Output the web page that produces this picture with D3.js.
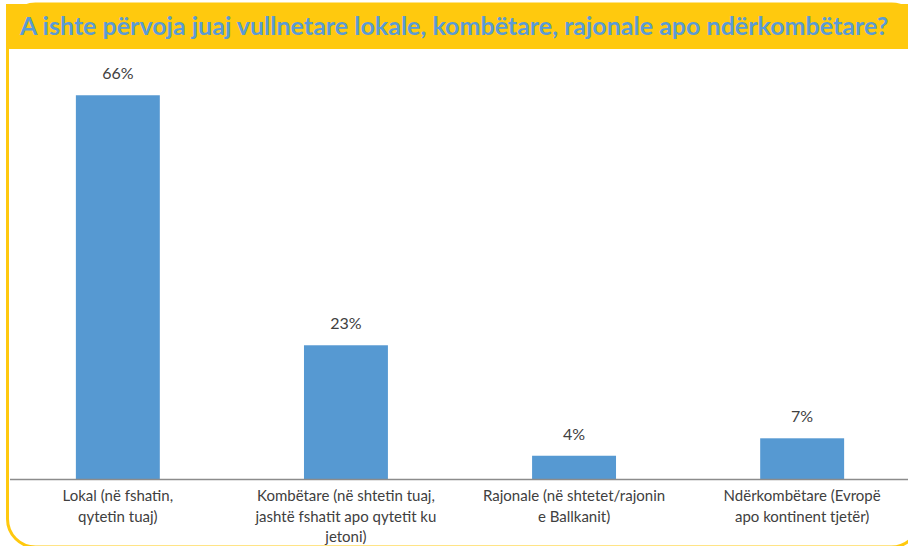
<!DOCTYPE html>
<html>
<head>
<meta charset="utf-8">
<script src="https://cdn.jsdelivr.net/npm/d3@7"></script>
<style>
  html, body { margin: 0; padding: 0; background: #fff; }
  svg { display: block; }
</style>
</head>
<body>
<div id="grafico"></div>
<script>
const WIDTH = 908;
const HEIGHT = 546;

const title = "A ishte përvoja juaj vullnetare lokale, kombëtare, rajonale apo ndërkombëtare?";
const categories = [
    ["Lokal (në fshatin,", "qytetin tuaj)"],
    ["Kombëtare (në shtetin tuaj,", "jashtë fshatit apo qytetit ku", "jetoni)"],
    ["Rajonale (në shtetet/rajonin", "e Ballkanit)"],
    ["Ndërkombëtare (Evropë", "apo kontinent tjetër)"]
];
const values = [66, 23, 4, 7];
const valueLabels = ["66%", "23%", "4%", "7%"];

const yellow = "#ffc90e";
const blue = "#5699d2";
const textColor = "#404040";

let svg = d3.select("#grafico")
    .append("svg")
    .attr("width", WIDTH)
    .attr("height", HEIGHT);

// rounded yellow frame, bottom edge sits just under the picture
svg.append("rect")
    .attr("x", 7.5)
    .attr("y", 4)
    .attr("width", 912)
    .attr("height", 543)
    .attr("rx", 28)
    .style("fill", "none")
    .style("stroke", yellow)
    .style("stroke-width", 3);

// title band
svg.append("rect")
    .attr("x", 6)
    .attr("y", 4)
    .attr("width", WIDTH - 6)
    .attr("height", 45)
    .style("fill", yellow);

let titleText = svg.append("text")
    .attr("x", 20)
    .attr("y", 35)
    .style("fill", "#5b9bd5")
    .style("font-family", "Lato")
    .style("font-weight", "bold")
    .style("font-size", "23px")
    .text(title);

// fit title to the width it takes in the picture
let tw = titleText.node().getComputedTextLength();
titleText.style("font-size", (23 * 869 / tw) + "px");

let x = d3.scaleBand()
    .domain(d3.range(values.length))
    .range([12, WIDTH])
    .paddingInner(0.632)
    .paddingOuter(0.28);

let y = d3.scaleLinear()
    .domain([0, 70])
    .range([479, 72]);

svg.selectAll(".bar")
    .data(values)
    .enter()
    .append("rect")
    .attr("class", "bar")
    .attr("x", (d, i) => x(i))
    .attr("y", d => y(d))
    .attr("width", x.bandwidth())
    .attr("height", d => y(0) - y(d))
    .style("fill", blue);

svg.append("line")
    .attr("x1", 10)
    .attr("x2", WIDTH)
    .attr("y1", y(0) + 0.5)
    .attr("y2", y(0) + 0.5)
    .style("stroke", "#8c8c8c")
    .style("stroke-width", 1.5);

svg.selectAll(".value")
    .data(values)
    .enter()
    .append("text")
    .attr("class", "value")
    .attr("x", (d, i) => x(i) + x.bandwidth() / 2)
    .attr("y", d => y(d) - 16)
    .attr("text-anchor", "middle")
    .style("fill", textColor)
    .style("font-family", "Lato")
    .style("font-size", "16px")
    .text((d, i) => valueLabels[i]);

let cat = svg.selectAll(".cat")
    .data(categories)
    .enter()
    .append("text")
    .attr("class", "cat")
    .attr("text-anchor", "middle")
    .style("fill", textColor)
    .style("font-family", "Lato")
    .style("font-size", "15px");

cat.selectAll("tspan")
    .data((d, i) => d.map(line => ({line: line, i: i})))
    .enter()
    .append("tspan")
    .attr("x", d => x(d.i) + x.bandwidth() / 2)
    .attr("y", (d, j) => 501 + j * 20.5)
    .text(d => d.line);
</script>
</body>
</html>
